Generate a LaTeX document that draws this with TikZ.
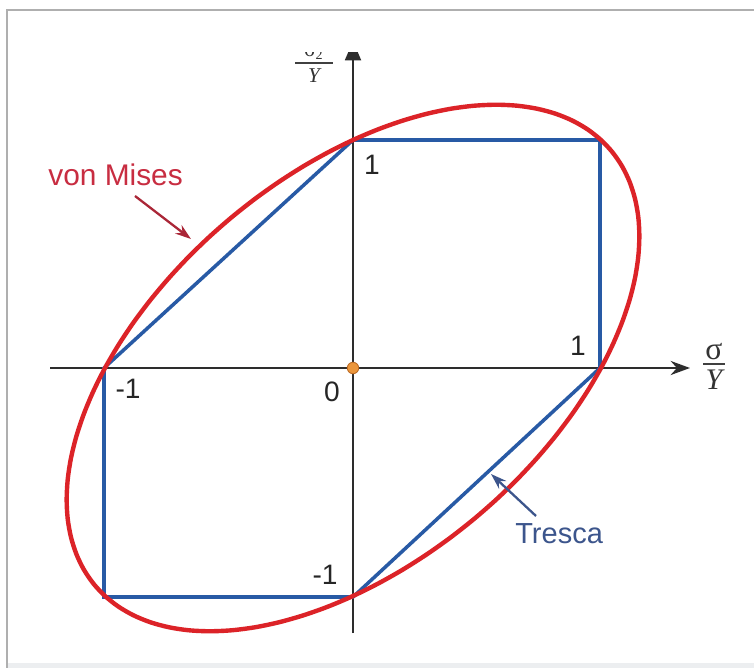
\documentclass[tikz,border=0pt]{standalone}
\usepackage{fontspec}
\setmainfont{Liberation Sans}
\newfontfamily\lserif{Liberation Serif}
\usetikzlibrary{arrows.meta}
\definecolor{vmred}{RGB}{220,35,40}
\definecolor{vmtxt}{RGB}{200,45,65}
\definecolor{trblue}{RGB}{40,90,165}
\definecolor{trtxt}{RGB}{60,85,140}
\definecolor{axisgray}{RGB}{45,45,45}
\definecolor{dotfill}{RGB}{235,150,60}
\definecolor{dotline}{RGB}{190,110,40}
\definecolor{framegray}{RGB}{175,175,175}
\definecolor{bandgray}{RGB}{236,238,240}
\tikzset{
  axisline/.style={draw=axisgray, line width=1.4pt},
  axistip/.style={-{Stealth[length=11pt,width=8pt]}},
  vmcurve/.style={draw=vmred, line width=2.5pt},
  trline/.style={draw=trblue, line width=2pt, line join=miter},
  numlabel/.style={font=\fontsize{16}{19}\selectfont, text=black!85, inner sep=0pt},
  vmlabel/.style={font=\fontsize{17}{20}\selectfont, text=vmtxt, inner sep=0pt},
  trlabel/.style={font=\fontsize{16.5}{20}\selectfont, text=trtxt, inner sep=0pt},
  vmarrow/.style={draw=vmtxt!85!black, line width=1.3pt, -{Stealth[length=9pt,width=6pt]}},
  trarrow/.style={draw=trtxt, line width=1.3pt, -{Stealth[length=9pt,width=6pt]}},
  fraclabel/.style={inner sep=0pt, text=black!80}
}
\begin{document}
\begin{tikzpicture}[x=0.02cm, y=-0.02cm]
\useasboundingbox (0,0) rectangle (754,668);
\fill[white] (0,0) rectangle (754,668);
% frame
\fill[bandgray] (7,663) rectangle (754,668);
\draw[framegray, line width=1pt] (7,668) -- (7,10) -- (754,10);
\begin{scope}
\clip (8,53) rectangle (754,662);
% axes
\coordinate (xstart) at (50,368);
\coordinate (xend) at (690,368);
\coordinate (ystart) at (353,633);
\coordinate (yend) at (353,41);
\draw[axisline, axistip] (xstart) -- (xend);
\draw[axisline, -{Stealth[length=11pt,width=9pt,inset=0pt]}] (ystart) -- (yend);
% Tresca hexagon
\coordinate (A) at (353,140);
\coordinate (B) at (600,140);
\coordinate (C) at (600,368);
\coordinate (D) at (353,597);
\coordinate (E) at (104,597);
\coordinate (F) at (104,368);
\draw[trline] (A) -- (B) -- (C) -- (D) -- (E) -- (F) -- cycle;
% von Mises ellipse
\draw[vmcurve] plot[domain=0:355, samples=72, smooth cycle, variable=\t]
  ({353+248*(cos(\t)-sin(\t)/sqrt(3))}, {368-228*(cos(\t)+sin(\t)/sqrt(3))});
% origin
\node[circle, fill=dotfill, draw=dotline, line width=0.5pt, minimum size=6.5pt, inner sep=0pt] (O) at (353,368) {};
% numbers
\node[numlabel] (n1y) at (372,165) {1};
\node[numlabel] (n1x) at (578,346) {1};
\node[numlabel] (nm1x) at (128,389) {-1};
\node[numlabel] (n0) at (332,392) {0};
\node[numlabel] (nm1y) at (325,575) {-1};
% axis labels
\node[fraclabel, anchor=south, font=\lserif\fontsize{12}{14}\selectfont] (s2) at (314,60) {σ\textsubscript{2}};
\draw[black!75, line width=0.8pt] (295,63) -- (333,63);
\node[fraclabel, anchor=north, font=\lserif\itshape\fontsize{12}{14}\selectfont] (Y2) at (314,68) {Y};
\node[fraclabel, anchor=south, font=\lserif\fontsize{18}{20}\selectfont] (s1) at (714,360) {σ};
\draw[black!75, line width=0.8pt] (703,364) -- (725,364);
\node[fraclabel, anchor=north, font=\lserif\itshape\fontsize{17}{20}\selectfont] (Y1) at (714,370) {Y};
% labels with arrows
\node[vmlabel, anchor=base west] (vm) at (48,186) {von Mises};
\coordinate (vmstart) at (135,196);
\coordinate (vmtip) at (191,239);
\draw[vmarrow] (vmstart) -- (vmtip);
\node[trlabel, anchor=base west] (tr) at (515,544) {Tresca};
\coordinate (trstart) at (536,516);
\coordinate (trtip) at (491,474);
\draw[trarrow] (trstart) -- (trtip);
\end{scope}
\end{tikzpicture}
\end{document}
